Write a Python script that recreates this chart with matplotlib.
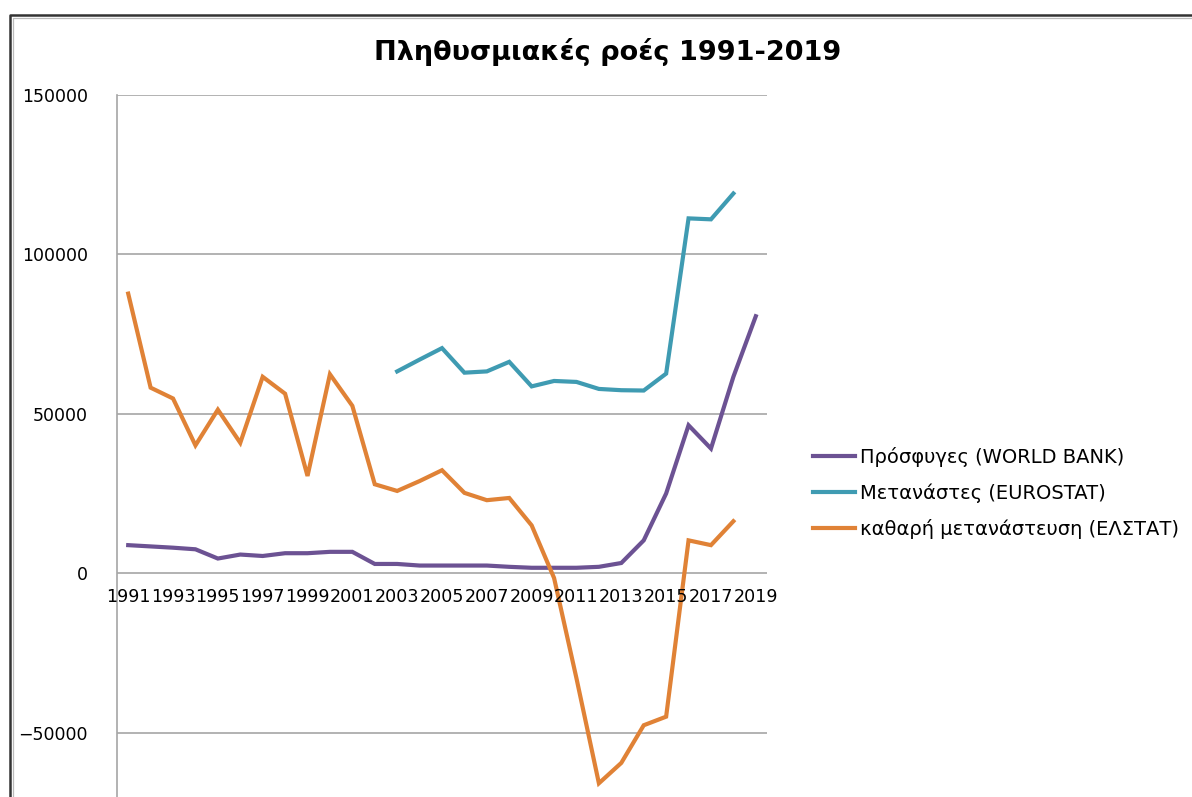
import numpy as np
import matplotlib
matplotlib.use('Agg')
import matplotlib.pyplot as plt
from matplotlib.lines import Line2D

# Data
years = list(range(1991, 2020))

refugees = [8800, 8400, 8000, 7500, 4600, 5850, 5400, 6270, 6270, 6700,
            6700, 2900, 2900, 2400, 2400, 2400, 2400, 2000, 1700, 1700,
            1700, 2000, 3200, 10300, 25000, 46400, 39100, 61600, 80600]

# Eurostat series starts in 2003 and ends in 2018
migrants = [None] * 12 + [63300, 67000, 70600, 62900, 63300, 66300, 58600,
                          60300, 60000, 57800, 57400, 57300, 62600, 111300,
                          111000, 119100, None]

net_migration = [87700, 58200, 54800, 40100, 51300, 40900, 61600, 56300,
                 30500, 62400, 52500, 27900, 25800, 28900, 32300, 25200,
                 22900, 23600, 15000, -1500, -33000, -65900, -59500,
                 -47700, -45000, 10300, 8800, 16300, None]

labels = ['Πρόσφυγες (WORLD BANK)', 'Μετανάστες (EUROSTAT)',
          'καθαρή μετανάστευση (ΕΛΣΤΑΤ)']
colors = ['#6c5293', '#3f9bb2', '#e08236']

W, H = 1192, 797
fig = plt.figure(figsize=(W / 100, H / 100), dpi=100)

# plot area: x 117..767 px, y 95 (150000) .. 892 (-100000), bottom is cut off
ax = fig.add_axes([117 / W, 1 - 892 / H, 650 / W, (892 - 95) / H])

x = np.arange(len(years))
for series, lab, col in zip([refugees, migrants, net_migration], labels, colors):
    y = np.array([np.nan if v is None else v for v in series], dtype=float)
    ax.plot(x, y, color=col, lw=3.0, label=lab, solid_joinstyle='miter')

ax.set_xlim(-0.5, len(years) - 0.5)
ax.set_ylim(-100000, 150000)
ax.set_yticks(np.arange(-50000, 150001, 50000))
ax.yaxis.grid(True, color='#a6a6a6', lw=1.2)
ax.set_axisbelow(True)

for s in ['top', 'right', 'bottom']:
    ax.spines[s].set_visible(False)
ax.spines['left'].set_color('#a6a6a6')
ax.spines['left'].set_linewidth(1.2)
ax.tick_params(axis='y', length=0, pad=21, labelsize=12.5)

# category labels sit right under the zero line, every other year
ax.set_xticks([])
for i, yr in enumerate(years):
    if i % 2 == 0:
        ax.annotate(str(yr), xy=(i, 0), xytext=(0, -11), textcoords='offset points',
                    ha='center', va='top', fontsize=12.6)

fig.text(608 / W, 1 - 52 / H, 'Πληθυσμιακές ροές 1991-2019', ha='center',
         va='center', fontsize=19.5, fontweight='bold', family='DejaVu Sans')

handles = [Line2D([0], [0], color=c, lw=3.0) for c in colors]
fig.legend(handles, labels, loc='center left', bbox_to_anchor=(795 / W, 1 - 493 / H),
           frameon=False, fontsize=14, handlelength=2.2, handletextpad=0.25,
           labelspacing=0.85)

# double frame around the chart area
fig.add_artist(Line2D([9.5 / W, 9.5 / W, 1.0], [0, 1 - 14.5 / H, 1 - 14.5 / H],
                      color='#333333', lw=1.8, transform=fig.transFigure))
fig.add_artist(Line2D([13 / W, 13 / W, 1.0], [0, 1 - 18 / H, 1 - 18 / H],
                      color='#bbbbbb', lw=0.9, transform=fig.transFigure))

fig.savefig('out.png', dpi=100)
